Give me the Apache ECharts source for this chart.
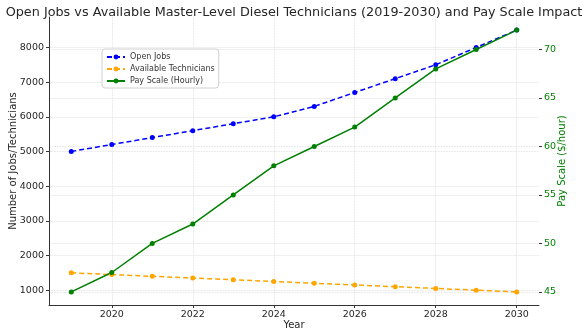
<!DOCTYPE html>
<html><head><meta charset="utf-8">
<script src="https://cdn.jsdelivr.net/npm/echarts@6/dist/echarts.min.js"></script>
<style>html,body{margin:0;padding:0;background:#fff}#c{width:588px;height:336px}</style>
</head><body><div id="c"></div>
<script>
const years = [2019,2020,2021,2022,2023,2024,2025,2026,2027,2028,2029,2030];
const openJobs = [5000,5200,5400,5600,5800,6000,6300,6700,7100,7500,8000,8500];
const availableTechs = [1500,1450,1400,1350,1300,1250,1200,1150,1100,1050,1000,950];
const payScale = [45,47,50,52,55,58,60,62,65,68,70,72];
const xTicks = [2020,2022,2024,2026,2028,2030];
const leftTicks = [1000,2000,3000,4000,5000,6000,7000,8000];
const rightTicks = [45,50,55,60,65,70];

const FONT = 'DejaVu Sans';
const grid = {type:'dotted', color:'#d9d9d9', width:0.8};
const chart = echarts.init(document.getElementById('c'), null, {renderer:'canvas'});
const pair = (xs, ys) => xs.map((x,i)=>[x, ys[i]]);
const plain = v => String(v);
chart.setOption({
  animation:false,
  textStyle:{fontFamily:FONT},
  title:{text:'Open Jobs vs Available Master-Level Diesel Technicians (2019-2030) and Pay Scale Impact',
    left:'center', top:1, textStyle:{fontFamily:FONT, fontSize:12.8, fontWeight:'normal', color:'#262626'}},
  grid:{left:49, right:49, top:17, bottom:31, outerBoundsMode:'none', containLabel:false},
  legend:{orient:'vertical', left:102, top:49, itemWidth:18, itemHeight:6, itemGap:4,
    padding:[4,4,3,4], borderColor:'#d0d0d0', borderWidth:1, borderRadius:3, backgroundColor:'#fff',
    textStyle:{fontFamily:FONT, fontSize:8, color:'#333'},
    data:['Open Jobs','Available Technicians','Pay Scale (Hourly)']},
  xAxis:{type:'value', min:2018.45, max:2030.55, name:'Year', nameLocation:'middle', nameGap:15, nameMoveOverlap:false,
    nameTextStyle:{fontFamily:FONT, fontSize:10, color:'#262626', verticalAlign:'top'},
    axisLine:{lineStyle:{color:'#333', width:1}},
    axisTick:{customValues:xTicks, length:3, lineStyle:{color:'#333'}},
    axisLabel:{customValues:xTicks, formatter:plain, fontFamily:FONT, fontSize:9.5, color:'#262626', margin:5},
    splitLine:{show:true, lineStyle:grid}},
  yAxis:[
    {type:'value', min:572.5, max:8877.5, name:'Number of Jobs/Technicians', nameLocation:'middle', nameGap:31, nameMoveOverlap:false,
      nameTextStyle:{fontFamily:FONT, fontSize:10, color:'#262626'},
      axisLine:{show:true, lineStyle:{color:'#333', width:1}},
      axisTick:{show:true, customValues:leftTicks, length:3, lineStyle:{color:'#333'}},
      axisLabel:{customValues:leftTicks, formatter:plain, fontFamily:FONT, fontSize:9.5, color:'#262626', margin:5},
      splitLine:{show:true, lineStyle:grid}},
    {type:'value', min:43.65, max:73.35, position:'right', name:'Pay Scale ($/hour)', nameLocation:'middle', nameGap:18, nameMoveOverlap:false,
      nameRotate:90,
      nameTextStyle:{fontFamily:FONT, fontSize:10, color:'#008000'},
      axisLine:{show:false},
      axisTick:{show:true, customValues:rightTicks, length:3, lineStyle:{color:'#333'}},
      axisLabel:{customValues:rightTicks, formatter:plain, fontFamily:FONT, fontSize:9.5, color:'#008000', margin:5},
      splitLine:{show:true, lineStyle:grid}}
  ],
  series:[
    {name:'Open Jobs', type:'line', yAxisIndex:0, data:pair(years, openJobs), symbol:'circle', symbolSize:5,
      itemStyle:{color:'#0000ff'}, lineStyle:{color:'#0000ff', width:1.5, type:[5,3]}},
    {name:'Available Technicians', type:'line', yAxisIndex:0, data:pair(years, availableTechs), symbol:'circle', symbolSize:5,
      itemStyle:{color:'#ffa500'}, lineStyle:{color:'#ffa500', width:1.5, type:[5,3]}},
    {name:'Pay Scale (Hourly)', type:'line', yAxisIndex:1, data:pair(years, payScale), symbol:'circle', symbolSize:5,
      itemStyle:{color:'#008000'}, lineStyle:{color:'#008000', width:1.5}}
  ]
});
</script></body></html>
